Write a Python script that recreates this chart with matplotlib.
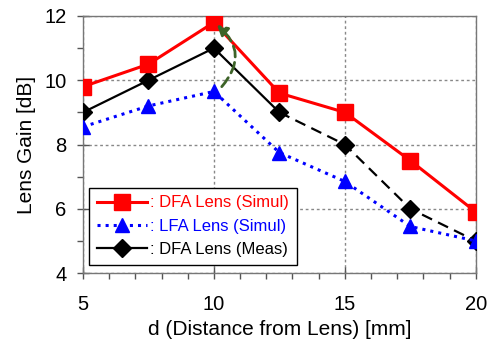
import numpy as np
import matplotlib
matplotlib.use('Agg')
from matplotlib import pyplot as plt
from matplotlib.ticker import MultipleLocator

plt.rcParams['font.family'] = ['Liberation Sans', 'DejaVu Sans']

d = [5, 7.5, 10, 12.5, 15, 17.5, 20]
dfa_simul = [9.8, 10.5, 11.8, 9.6, 9.0, 7.5, 5.9]
lfa_simul = [8.55, 9.2, 9.65, 7.75, 6.85, 5.45, 5.0]
dfa_meas = [9.0, 10.0, 11.0, 9.0, 8.0, 6.0, 5.0]

labels = [': DFA Lens (Simul)', ': LFA Lens (Simul)', ': DFA Lens (Meas)']
label_colors = ['red', 'blue', 'black']

fig = plt.figure(figsize=(4.88, 3.47), dpi=100)
ax = fig.add_axes([0.170, 0.213, 0.805, 0.741])

# measured: solid up to 12.5, dashed after
ax.plot(d[3:], dfa_meas[3:], color='k', ls=(0, (5, 3)), lw=1.6, zorder=3)
ax.plot(d[:4], dfa_meas[:4], color='k', lw=1.6, zorder=3)
ax.plot(d, dfa_meas, color='k', lw=0, marker='D', ms=9.5, zorder=4)
ax.plot(d, lfa_simul, color='blue', ls=':', lw=2.2, marker='^', ms=10, zorder=5)
ax.plot(d, dfa_simul, color='red', lw=2.2, marker='s', ms=11, zorder=6)

# legend proxies with lines through the markers
h1, = ax.plot([], [], color='red', lw=2.2, marker='s', ms=11)
h2, = ax.plot([], [], color='blue', ls=':', lw=2.2, marker='^', ms=10)
h3, = ax.plot([], [], color='k', lw=1.6, marker='D', ms=9.5)

ax.annotate('', xy=(10.12, 11.72), xytext=(10.3, 9.8),
            arrowprops=dict(arrowstyle='-|>,head_length=0.6,head_width=0.35',
                            color='#3d6328', lw=2, ls=(0, (4, 2)),
                            connectionstyle='arc3,rad=0.5', shrinkA=0, shrinkB=0),
            zorder=7)

ax.set_xlim(5, 20)
ax.set_ylim(4, 12)
ax.xaxis.set_major_locator(MultipleLocator(5))
ax.xaxis.set_minor_locator(MultipleLocator(1))
ax.yaxis.set_major_locator(MultipleLocator(2))
ax.yaxis.set_minor_locator(MultipleLocator(1))
ax.tick_params(which='major', direction='inout', length=8, width=1, color='#555555',
               labelsize=14.5)
ax.tick_params(axis='x', which='major', pad=12)
ax.tick_params(axis='y', which='major', pad=8)
ax.tick_params(which='minor', direction='out', length=4, width=1, color='#555555')
ax.grid(which='major', color='#888888', ls=(0, (2, 2)), lw=1)
for s in ax.spines.values():
    s.set_color('#777777')
    s.set_linewidth(1)

ax.set_xlabel('d (Distance from Lens) [mm]', fontsize=15, labelpad=4)
ax.set_ylabel('Lens Gain [dB]', fontsize=15, labelpad=6)

leg = ax.legend([h1, h2, h3], labels, loc='lower left', bbox_to_anchor=(0.008, 0.02),
                fontsize=12, handlelength=3.0, handletextpad=0.2, borderpad=0.45,
                labelspacing=0.5, fancybox=False, framealpha=1, edgecolor='k',
                borderaxespad=0.2)
leg.get_frame().set_linewidth(1)
for t, c in zip(leg.get_texts(), label_colors):
    t.set_color(c)

fig.savefig('out.png', dpi=100)
